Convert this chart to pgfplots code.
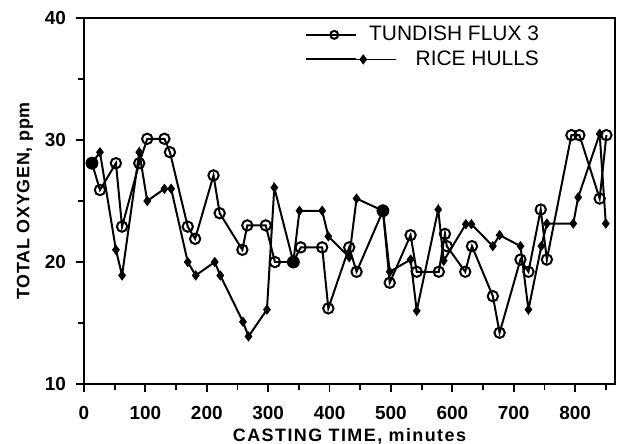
\documentclass[border=0pt]{standalone}
\usepackage{fontspec}
\setmainfont{Liberation Sans}
\usepackage{pgfplots}
\pgfplotsset{compat=1.18}
\usetikzlibrary{calc}

\begin{document}
\begin{tikzpicture}
\begin{axis}[
  scale only axis,
  width=265.5bp, height=183bp,
  xmin=0, xmax=865,
  ymin=10, ymax=40,
  xtick={0,100,...,800},
  minor xtick={50,150,...,850},
  ytick={10,20,30,40},
  minor ytick={15,25,35},
  tick pos=left,
  tick align=outside,
  major tick length=4bp,
  minor tick length=3bp,
  axis line style={line width=1pt},
  every tick/.style={line width=0.9pt, black},
  /pgf/number format/assume math mode=true,
  ticklabel style={font=\bfseries\fontsize{9.5}{11}\selectfont},
  yticklabel style={xshift=-1.5bp},
  xticklabel style={yshift=-3.5bp},
  xlabel={\addfontfeature{LetterSpace=8}\bfseries CASTING TIME, minutes},
  ylabel={\addfontfeature{LetterSpace=4}\bfseries TOTAL OXYGEN, ppm},
  every axis x label/.style={at={(axis description cs:0.5,-0.142)}, anchor=center,
    font=\fontsize{9}{11}\selectfont},
  every axis y label/.style={at={(axis description cs:-0.111,0.5)}, rotate=90, anchor=center,
    font=\fontsize{9}{11}\selectfont},
  legend style={draw=none, fill=none, inner sep=0pt, at={(0.865,0.99)}, anchor=north east,
    font=\fontsize{10.5}{12}\selectfont, row sep=-0.5pt, column sep=4bp},
  legend cell align=right,
]
% Tundish flux 3
\addplot[black, line width=1pt, mark=o, mark size=2.6pt,
  mark options={fill=white, line width=1pt},
  legend image code/.code={%
    \draw[line width=0.8pt, mark repeat=2, mark phase=2, mark size=2pt]
      plot coordinates {(0bp,0bp) (14bp,0bp) (25bp,0bp)};}] coordinates {
  (13,28.1) (26,25.9) (52,28.1) (62,22.9) (90,28.1) (103,30.1) (131,30.1)
  (140,29.0) (169,22.9) (181,21.9) (211,27.1) (221,24.0) (258,21.0)
  (266,23.0) (296,23.0) (311,20.0) (341,20.0) (353,21.2) (388,21.2)
  (398,16.2) (432,21.2) (444,19.2) (487,24.2) (498,18.3) (532,22.2)
  (542,19.2) (578,19.2) (588,22.3) (591,21.3) (621,19.2) (632,21.3)
  (666,17.2) (677,14.2) (711,20.2) (724,19.2) (744,24.3) (754,20.2)
  (794,30.4) (807,30.4) (840,25.2) (851,30.4)
};
% Rice hulls
\addplot[black, line width=1pt, mark=diamond*, mark size=2.2pt,
  mark options={line width=0.5pt},
  legend image code/.code={%
    \draw[overlay, line width=0.8pt, mark repeat=2, mark phase=2]
      plot coordinates {(12.5bp,0bp) (28.5bp,0bp) (45bp,0bp)};
    \path (0bp,0bp) -- (25bp,0bp);}] coordinates {
  (13,28.1) (26,29.0) (52,21.0) (62,18.9) (90,29.0) (103,25.0) (131,26.0)
  (142,26.0) (169,20.0) (182,18.9) (213,20.0) (222,18.9) (259,15.1)
  (268,13.9) (298,16.1) (310,26.1) (341,20.0) (351,24.2) (388,24.2)
  (398,22.1) (432,20.4) (444,25.2) (487,24.2) (498,19.2) (532,20.2)
  (542,16.0) (577,24.3) (586,20.1) (622,23.1) (631,23.1) (666,21.3)
  (677,22.2) (711,21.3) (724,16.1) (745,21.3) (754,23.15) (797,23.15)
  (805,25.3) (840,30.5) (850,23.15)
};
% overlapping points
\addplot[only marks, mark=*, mark size=3pt, black, forget plot] coordinates {
  (13,28.1) (341,20.0) (487,24.2)
};
\legend{TUNDISH FLUX 3, RICE HULLS}
\end{axis}
\pgfresetboundingbox
\path[use as bounding box] ($(current axis.south west)+(-42bp,-30bp)$)
  rectangle ($(current axis.north east)+(2bp,9bp)$);
\end{tikzpicture}
\end{document}
